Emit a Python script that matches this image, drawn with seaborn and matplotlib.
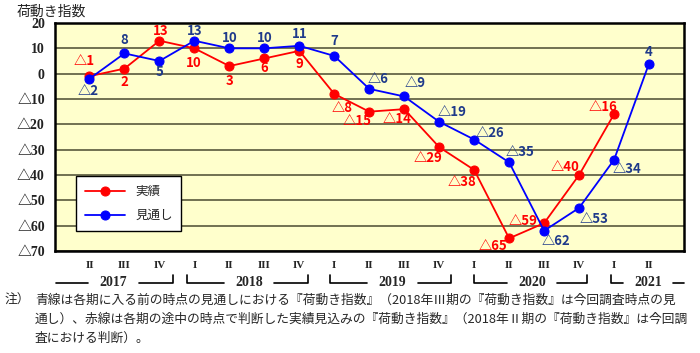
import numpy as np
import pandas as pd
import seaborn as sns
import matplotlib.pyplot as plt
from matplotlib.transforms import blended_transform_factory

# -----------------------------
# data
# -----------------------------
periods = ['II', 'III', 'IV', 'I', 'II', 'III', 'IV', 'I', 'II', 'III', 'IV',
           'I', 'II', 'III', 'IV', 'I', 'II']
actual = [-1, 2, 13, 10, 3, 6, 9, -8, -15, -14, -29, -38, -65, -59, -40, -16, np.nan]
forecast = [-2, 8, 5, 13, 10, 10, 11, 7, -6, -9, -19, -26, -35, -62, -53, -34, 4]
years = ['2017', '2018', '2019', '2020', '2021']

# label offsets in pixels (dx, dy downward)
red_off = [(-5, -15), (0, 13), (1, -10), (-1, 15), (0, 15), (0, 10), (0, 13), (8, 14),
           (-12, 9), (-7, 10), (-11, 11), (-12, 12), (-16, 8), (-21, -2), (-14, -8), (-11, -7)]
blue_off = [(-1, 12), (0, -13), (0, 11), (0, -10), (0, -10), (0, -10), (0, -12), (0, -15),
            (9, -10), (11, -13), (13, -10), (16, -7), (11, -10), (12, 10), (15, 11), (13, 9), (0, -12)]

# year brackets: (start, end, text centre) in category units
year_span = [(-0.95, 2.38, 0.69), (2.8, 6.26, 4.57), (6.89, 10.34, 8.66),
             (11.0, 14.23, 12.66), (14.91, 17.0, 15.97)]

sns.set_style('white')
plt.rcParams['font.family'] = ['Noto Sans CJK JP', 'DejaVu Sans']

RED = '#FF0000'
BLUE = '#0000FF'
NAVY = '#1F3A8A'

df = pd.DataFrame({'idx': range(len(periods)), '実績': actual, '見通し': forecast})

fig = plt.figure(figsize=(7, 3.53), dpi=100)
ax = fig.add_axes([54.5 / 700, 1 - 251 / 353, 629.5 / 700, 228 / 353])
ax.set_facecolor('#FFFFCC')

sns.lineplot(data=df, x='idx', y='実績', ax=ax, color=RED, marker='o', markersize=6.5,
             markeredgecolor=RED, linewidth=1.3, label='実績')
sns.lineplot(data=df, x='idx', y='見通し', ax=ax, color=BLUE, marker='o', markersize=6.5,
             markeredgecolor=BLUE, linewidth=1.3, label='見通し')


def fmt(v):
    return f'△{abs(int(v))}' if v < 0 else str(int(v))


for i, (v, (dx, dy)) in enumerate(zip(actual, red_off)):
    if np.isnan(v):
        continue
    ax.annotate(fmt(v), (i, v), xytext=(dx, -dy), textcoords='offset pixels',
                ha='center', va='center', color=RED, fontsize=9.5, fontweight='bold')
for i, (v, (dx, dy)) in enumerate(zip(forecast, blue_off)):
    ax.annotate(fmt(v), (i, v), xytext=(dx, -dy), textcoords='offset pixels',
                ha='center', va='center', color=NAVY, fontsize=9.5, fontweight='bold')

ax.set_xlim(-1, 17)
ax.set_ylim(-70, 20)
yt = list(range(-70, 21, 10))
ax.set_yticks(yt)
ax.set_yticklabels([fmt(v) for v in yt], fontsize=10, fontweight='bold', color='#222222',
                   family=['Liberation Serif', 'Noto Sans CJK JP', 'DejaVu Sans'])
ax.set_xticks(range(len(periods)))
ax.set_xticklabels(periods, family='Liberation Serif', fontweight='bold', fontsize=8)
ax.tick_params(axis='x', direction='in', length=5, width=1, pad=7, color='black')
ax.tick_params(axis='y', direction='out', length=4, width=1, pad=3, color='black')
ax.set_xlabel('')
ax.set_ylabel('')
ax.yaxis.grid(True, color='#4a4a30', linewidth=1.1)
ax.set_axisbelow(True)
for s in ax.spines.values():
    s.set_color('black')
    s.set_linewidth(1.8)

leg = ax.legend(loc='lower left', bbox_to_anchor=(0.025, 0.06), frameon=True,
                fancybox=False, edgecolor='black', facecolor='white', fontsize=9,
                handlelength=3.2, borderpad=0.7, labelspacing=0.9, framealpha=1)
leg.get_frame().set_linewidth(1.0)

# year brackets under the axis
tr = blended_transform_factory(ax.transData, fig.transFigure)
yl = 1 - 283 / 353
yt_top = 1 - 275 / 353
gap = 0.72
for k, (a, b, c) in enumerate(year_span):
    xs_l = [a, a, c - gap] if k > 0 else [a, c - gap]
    ys_l = [yt_top, yl, yl] if k > 0 else [yl, yl]
    xs_r = [c + gap, b, b] if k < len(years) - 1 else [c + gap, b]
    ys_r = [yl, yl, yt_top] if k < len(years) - 1 else [yl, yl]
    ax.plot(xs_l, ys_l, transform=tr, color='black', lw=1.2, clip_on=False)
    ax.plot(xs_r, ys_r, transform=tr, color='black', lw=1.2, clip_on=False)
    ax.text(c, yl, years[k], transform=tr, ha='center', va='center', fontsize=10,
            family='Liberation Serif', fontweight='bold')

fig.text(17 / 700, 1 - 12 / 353, '荷動き指数', ha='left', va='center', fontsize=10,
         color='#222222')

notes = ['青線は各期に入る前の時点の見通しにおける『荷動き指数』（2018年Ⅲ期の『荷動き指数』は今回調査時点の見',
         '通し）、赤線は各期の途中の時点で判断した実績見込みの『荷動き指数』（2018年Ⅱ期の『荷動き指数』は今回調',
         '査における判断）。']
fig.text(5 / 700, 1 - 300 / 353, '注）', ha='left', va='center', fontsize=9.2)
for j, line in enumerate(notes):
    fig.text(35 / 700, 1 - (300 + 19 * j) / 353, line, ha='left', va='center', fontsize=9.2)

fig.savefig('out.png', dpi=100)
